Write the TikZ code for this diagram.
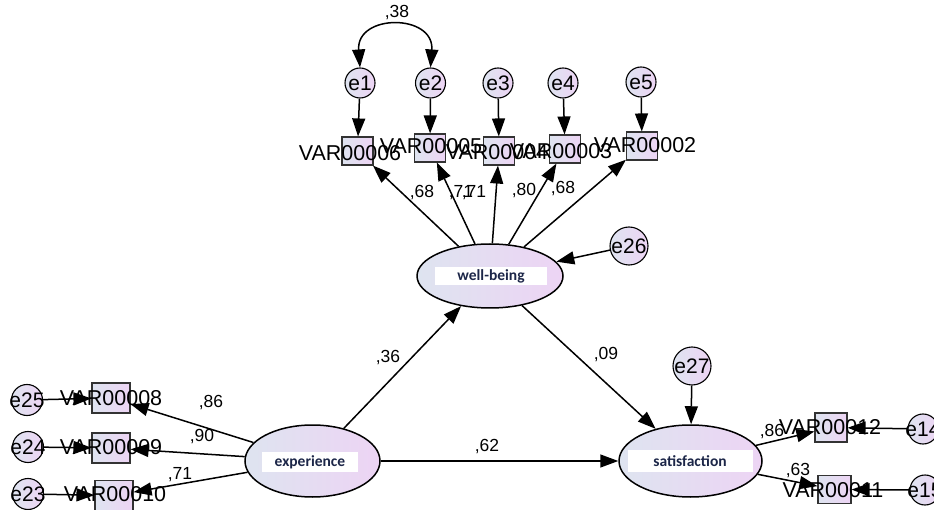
\documentclass[tikz,border=0pt]{standalone}
\usepackage{fontspec}
\setmainfont{Liberation Sans}
\newfontfamily\latfont{Carlito}
\usepackage{tikz}
\usetikzlibrary{calc}
\usetikzlibrary {arrows.meta}
\usetikzlibrary{shapes.geometric}

\definecolor{shadeL}{RGB}{222,228,240}
\definecolor{shadeR}{RGB}{237,212,244}
\definecolor{latink}{RGB}{28,38,72}

\begin{document}
\begin{tikzpicture}[x=1pt, y=-1pt,
        elabel/.style={inner sep=0pt, font=\fontsize{21}{21}\selectfont},
        errvar/.style={circle, draw, line width=1.1pt, left color=shadeL, right color=shadeR,
                inner sep=0pt, minimum size=30pt, label={[elabel]center:#1}},
        indicator/.style={rectangle, draw=black!80, line width=1.1pt, left color=shadeL, right color=shadeR,
                inner sep=0pt, minimum width=31pt, minimum height=28pt},
        latent/.style={ellipse, draw, line width=1.5pt, left color=shadeL, right color=shadeR, inner sep=0pt},
        latlabel/.style={fill=white, inner sep=0pt, text=latink, font=\latfont\bfseries\fontsize{15.5}{15.5}\selectfont},
        varlabel/.style={inner sep=0pt, font=\fontsize{21.5}{21.5}\selectfont},
        coef/.style={inner sep=0pt, font=\fontsize{17.5}{17.5}\selectfont},
        reg/.style={line width=1.5pt, -{Triangle[length=18pt, width=13pt]}}
    ]
        \useasboundingbox (0,0) rectangle (934,510);

        % Latent variables
        \node[latent, minimum width=146pt, minimum height=64pt] (wb) at (490,276) {};
        \node[latent, minimum width=135pt, minimum height=72pt] (ex) at (312.5,461) {};
        \node[latent, minimum width=143pt, minimum height=72pt] (sat) at (690.5,461) {};
        \node[latlabel, minimum width=112pt, minimum height=18pt] (wbl) at (491,276) {well-being};
        \node[latlabel, minimum width=96pt, minimum height=20pt] (exl) at (310,462) {experience};
        \node[latlabel, minimum width=125pt, minimum height=22pt] (satl) at (690,461) {satisfaction};

        % Indicators
        \node[indicator] (v6) at (357.5,151) {};
        \node[indicator] (v5) at (430,148) {};
        \node[indicator] (v4) at (499,151) {};
        \node[indicator] (v3) at (565,149) {};
        \node[indicator] (v2) at (642,146) {};
        \node[indicator, minimum width=38pt, minimum height=30pt] (v8) at (111,398) {};
        \node[indicator, minimum width=38pt, minimum height=30pt] (v9) at (111,448) {};
        \node[indicator, minimum width=38pt, minimum height=30pt] (v10) at (114,495.5) {};
        \node[indicator, minimum width=32pt, minimum height=29pt] (v12) at (831,427.5) {};
        \node[indicator, minimum width=33pt, minimum height=28pt] (v11) at (834.5,489.5) {};

        \node[varlabel] (t6) at (350,153) {VAR00006};
        \node[varlabel] (t5) at (431,146) {VAR00005};
        \node[varlabel] (t4) at (497,152) {VAR00004};
        \node[varlabel] (t3) at (561,151) {VAR00003};
        \node[varlabel] (t2) at (645,145) {VAR00002};
        \node[varlabel] (t8) at (111,398) {VAR00008};
        \node[varlabel] (t9) at (111,447) {VAR00009};
        \node[varlabel] (t10) at (115,494) {VAR00010};
        \node[varlabel] (t12) at (830,427) {VAR00012};
        \node[varlabel] (t11) at (833,490) {VAR00011};

        % Error terms
        \node[errvar=e1] (e1) at (360,83) {};
        \node[errvar=e2] (e2) at (430.5,83) {};
        \node[errvar=e3] (e3) at (498,83) {};
        \node[errvar=e4] (e4) at (563,83) {};
        \node[errvar=e5] (e5) at (641,82) {};
        \node[errvar=e26, minimum size=38pt] (e26) at (629,246) {};
        \node[errvar=e27, minimum size=38pt] (e27) at (692,366) {};
        \node[errvar=e25, minimum size=31pt] (e25) at (27,400) {};
        \node[errvar=e24, minimum size=31pt] (e24) at (28,447) {};
        \node[errvar=e23, minimum size=31pt] (e23) at (28,494) {};
        \node[errvar=e14] (e14) at (923,429) {};
        \node[errvar=e15] (e15) at (925,490) {};

        % Paths
        \draw[reg] (e1) -- (v6);
        \draw[reg] (e2) -- (v5);
        \draw[reg] (e3) -- (v4);
        \draw[reg] (e4) -- (v3);
        \draw[reg] (e5) -- (v2);
        \draw[reg] (wb) -- (v6);
        \draw[reg] (wb) -- (v5);
        \draw[reg] (wb) -- (v4);
        \draw[reg] (wb) -- (v3);
        \draw[reg] (wb) -- (v2);

        \draw[reg] (ex) -- (v8);
        \draw[reg] (ex) -- (v9);
        \draw[reg] (ex) -- (v10);
        \draw[reg] (e25) -- (v8);
        \draw[reg] (e24) -- (v9);
        \draw[reg] (e23) -- (v10);

        \draw[reg] (sat) -- (v12);
        \draw[reg] (sat) -- (v11);
        \draw[reg] (e14) -- (v12);
        \draw[reg] (e15) -- (v11);

        \draw[reg] (ex) -- (wb);
        \draw[reg] (wb) -- (sat);
        \draw[reg] (ex) -- (sat);
        \draw[reg] (e26) -- (wb);
        \draw[reg] (e27) -- (sat);

        % Covariance
        \draw[line width=1.5pt, {Triangle[length=18pt, width=13pt]}-{Triangle[length=18pt, width=13pt]}]
            (e1.north) .. controls ($(e1.north)+(-4,-54)$) and ($(e2.north)+(4,-54)$) .. (e2.north);

        % Estimates
        \node[coef] (c12) at (397,13) {,38};
        \node[coef] (c6) at (422,193) {,68};
        \node[coef] (c5) at (461,193) {,71};
        \node[coef] (c4) at (474,193) {,71};
        \node[coef] (c3) at (524,191) {,80};
        \node[coef] (c2) at (563,189) {,68};
        \node[coef] (cew) at (388,358) {,36};
        \node[coef] (cws) at (606,355) {,09};
        \node[coef] (ces) at (487,447) {,62};
        \node[coef] (c8) at (211,403) {,86};
        \node[coef] (c9) at (202,437) {,90};
        \node[coef] (c10) at (180,475) {,71};
        \node[coef] (c12r) at (772,432) {,86};
        \node[coef] (c11) at (798,471) {,63};
    \end{tikzpicture}
\end{document}
